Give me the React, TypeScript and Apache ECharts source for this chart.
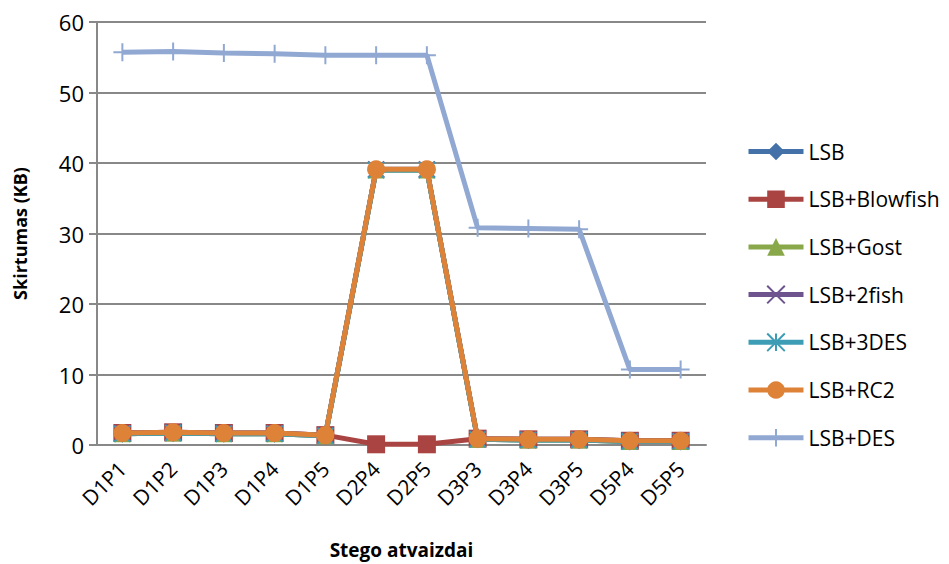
import React, { useEffect, useRef } from "react";
import * as echarts from "echarts";

const categories = ["D1P1", "D1P2", "D1P3", "D1P4", "D1P5", "D2P4", "D2P5", "D3P3", "D3P4", "D3P5", "D5P4", "D5P5"];
const lsb = [1.6, 1.7, 1.6, 1.6, 1.3, 39.0, 39.0, 0.8, 0.7, 0.7, 0.5, 0.5];
const lsbBlowfish = [1.7, 1.8, 1.7, 1.7, 1.4, 0.1, 0.1, 0.9, 0.8, 0.8, 0.6, 0.6];
const lsbGost = [1.6, 1.7, 1.6, 1.6, 1.3, 39.0, 39.0, 0.8, 0.7, 0.7, 0.5, 0.5];
const lsb2fish = [1.7, 1.8, 1.7, 1.7, 1.4, 39.1, 39.1, 0.9, 0.8, 0.8, 0.6, 0.6];
const lsb3des = [1.6, 1.7, 1.6, 1.6, 1.3, 39.0, 39.0, 0.8, 0.7, 0.7, 0.5, 0.5];
const lsbRc2 = [1.7, 1.8, 1.7, 1.7, 1.4, 39.1, 39.1, 0.9, 0.8, 0.8, 0.6, 0.6];
const lsbDes = [55.7, 55.8, 55.6, 55.5, 55.3, 55.3, 55.3, 30.8, 30.7, 30.6, 10.7, 10.7];
const yTicks = [0, 10, 20, 30, 40, 50, 60];

const FONT = "Open Sans";

export default function App() {
  const ref = useRef<HTMLDivElement>(null);
  useEffect(() => {
    if (!ref.current) return;
    const chart = echarts.init(ref.current, null, { renderer: "svg" });
    const mk = (name: string, data: number[], color: string, symbol: string, size: number, z: number, stroke = 0) => ({
      name,
      type: "line",
      data,
      symbol,
      symbolSize: size,
      z,
      lineStyle: { color, width: 5 },
      itemStyle: { color, borderColor: color, borderWidth: stroke },
    });
    chart.setOption({
      animation: false,
      textStyle: { fontFamily: FONT },
      grid: { left: 97, right: 243, top: 22, bottom: 118 },
      legend: {
        orient: "vertical",
        left: 746,
        top: 141,
        padding: 0,
        itemGap: 26.7,
        itemWidth: 55,
        itemHeight: 22,
        lineStyle: { width: 5 },
        textStyle: { fontFamily: FONT, fontSize: 21, color: "#000" },
        data: ["LSB", "LSB+Blowfish", "LSB+Gost", "LSB+2fish", "LSB+3DES", "LSB+RC2", "LSB+DES"],
      },
      xAxis: {
        type: "category",
        data: categories,
        boundaryGap: true,
        name: "Stego atvaizdai",
        nameLocation: "middle",
        nameGap: 95,
        nameTextStyle: { fontFamily: FONT, fontWeight: "bold", fontSize: 19, color: "#000" },
        axisLine: { lineStyle: { color: "#888", width: 2 } },
        axisTick: { show: false },
        axisLabel: { rotate: 45, fontSize: 21, color: "#000", margin: 20, interval: 0 },
        splitLine: { show: false },
      },
      yAxis: {
        type: "value",
        min: 0,
        max: 60,
        interval: 10,
        name: "Skirtumas (KB)",
        nameLocation: "middle",
        nameGap: 68,
        nameTextStyle: { fontFamily: FONT, fontWeight: "bold", fontSize: 18, color: "#000" },
        axisLine: { show: true, lineStyle: { color: "#888", width: 2 } },
        axisTick: { show: true, length: 8, lineStyle: { color: "#888", width: 2 } },
        axisLabel: { fontSize: 22, color: "#000", margin: 13, formatter: (v: number) => (yTicks.includes(v) ? String(v) : "") },
        splitLine: { lineStyle: { color: "#888", width: 2 } },
      },
      series: [
        mk("LSB", lsb, "#4472a8", "diamond", 18, 2),
        mk("LSB+Blowfish", lsbBlowfish, "#a94442", "rect", 18, 3),
        mk("LSB+Gost", lsbGost, "#88a84a", "triangle", 17, 4),
        mk("LSB+2fish", lsb2fish, "#6e548f", "path://M0,0L10,10M10,0L0,10", 16, 5, 2),
        mk("LSB+3DES", lsb3des, "#3c9db5", "path://M0,0L10,10M10,0L0,10M5,0L5,10", 16, 6, 2),
        mk("LSB+RC2", lsbRc2, "#de8238", "circle", 18, 7),
        mk("LSB+DES", lsbDes, "#91a9d2", "path://M5,0L5,10M0,5L10,5", 18, 8, 2),
      ],
    });
    return () => chart.dispose();
  }, []);
  return <div ref={ref} style={{ position: "absolute", left: 0, top: 0, width: 949, height: 564 }} />;
}
